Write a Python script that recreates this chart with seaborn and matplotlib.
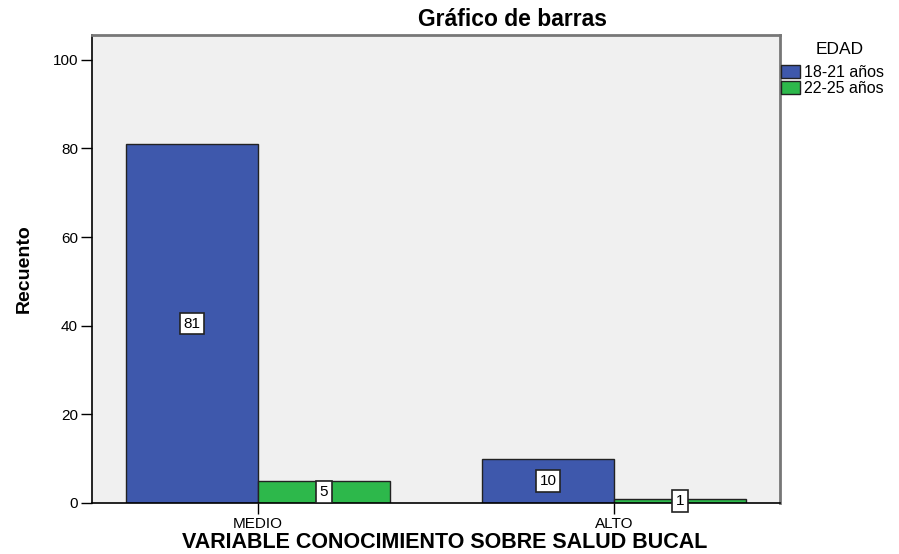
import seaborn as sns
import pandas as pd
import matplotlib.pyplot as plt
from matplotlib.patches import Patch

# Data
niveles = ["MEDIO", "ALTO"]
edades = ["18-21 años", "22-25 años"]
recuento_18_21 = [81, 10]
recuento_22_25 = [5, 1]

df = pd.DataFrame(
    {
        "nivel": niveles * 2,
        "edad": [edades[0]] * 2 + [edades[1]] * 2,
        "recuento": recuento_18_21 + recuento_22_25,
    }
)

colores = {edades[0]: "#3e58ac", edades[1]: "#2db84b"}

sns.set_style("white")
plt.rcParams["font.family"] = ["Liberation Sans", "DejaVu Sans"]
plt.rcParams["text.color"] = "black"
plt.rcParams["axes.labelcolor"] = "black"

fig = plt.figure(figsize=(8.99, 5.54), dpi=100)
ax = fig.add_axes([0.1023, 0.0921, 0.7653, 0.8447])
ax.set_facecolor("#f0f0f0")

sns.barplot(
    data=df,
    x="nivel",
    y="recuento",
    hue="edad",
    order=niveles,
    hue_order=edades,
    palette=colores,
    width=0.74,
    edgecolor="#222222",
    linewidth=1.0,
    saturation=1,
    legend=False,
    ax=ax,
)

# Value labels in white boxes
for cont in ax.containers:
    ax.bar_label(
        cont,
        label_type="center",
        fontsize=11,
        color="black",
        bbox=dict(boxstyle="square,pad=0.25", fc="white", ec="#222222", lw=1.2),
    )

ax.set_xlim(-0.466, 1.466)
ax.set_ylim(0, 105.6)
ax.set_yticks([0, 20, 40, 60, 80, 100])
ax.tick_params(axis="both", direction="out", length=8, width=1, colors="black",
               labelsize=11, pad=2, left=True, bottom=True)

for s in ["left", "bottom"]:
    ax.spines[s].set_color("black")
    ax.spines[s].set_linewidth(1.2)
for s in ["top", "right"]:
    ax.spines[s].set_color("#777777")
    ax.spines[s].set_linewidth(2)

ax.set_xlabel("")
ax.set_ylabel("Recuento", fontsize=14, fontweight="bold", labelpad=14)

# Title and x label placed as in the original export
fig.text(513 / 899, 1 - 20 / 554, "Gráfico de barras", fontsize=16.5,
         fontweight="bold", ha="center", va="center")
fig.text(445 / 899, 1 - 542 / 554, "VARIABLE CONOCIMIENTO SOBRE SALUD BUCAL",
         fontsize=15.5, fontweight="bold", ha="center", va="center")

fig.text(840 / 899, 1 - 50 / 554, "EDAD", fontsize=12.5, ha="center", va="center")
handles = [Patch(facecolor=colores[e], edgecolor="#222222", label=e) for e in edades]
leg = fig.legend(
    handles=handles,
    loc="upper left",
    bbox_to_anchor=(0.869, 1 - 65 / 554),
    frameon=False,
    fontsize=11.5,
    handlelength=1.2,
    handleheight=0.9,
    handletextpad=0.2,
    labelspacing=0.05,
    borderaxespad=0,
    borderpad=0,
)

plt.savefig("out.png", dpi=100)
